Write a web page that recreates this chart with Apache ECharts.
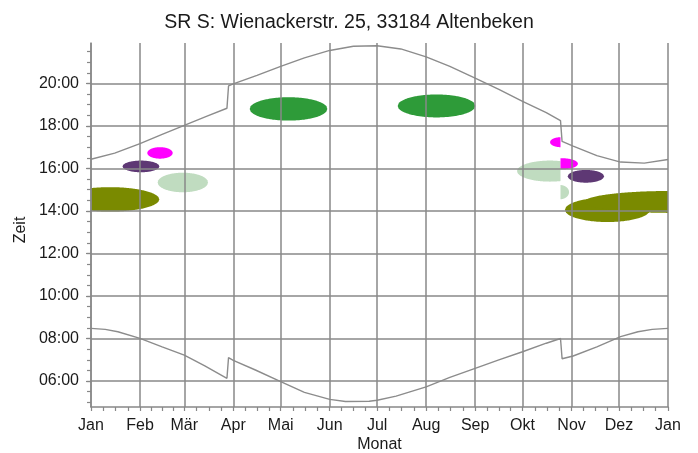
<!DOCTYPE html>
<html><head><meta charset="utf-8">
<script src="https://cdn.jsdelivr.net/npm/echarts@6/dist/echarts.min.js"></script>
<style>html,body{margin:0;padding:0;background:#fff}#c{width:698px;height:453px}</style>
</head><body><div id="c"></div>
<script>
// ---- data ----
const titleText = 'SR S: Wienackerstr. 25, 33184 Altenbeken';
const monthLabels = ['Jan','Feb','Mär','Apr','Mai','Jun','Jul','Aug','Sep','Okt','Nov','Dez','Jan'];
const monthStartDays = [0,31,59,90,120,151,181,212,243,273,304,334,365];
const hourLabels = [6,8,10,12,14,16,18,20];

// sunset (upper curve), day of year -> hour
const sunsetDays  = [0,15,31,45,59,73,86,87,90,105,120,135,151,166,181,196,212,227,243,258,273,288,297,298,305,320,335,350,365];
const sunsetHours = [16.43,16.72,17.17,17.6,18.03,18.45,18.83,19.88,19.98,20.38,20.8,21.2,21.55,21.75,21.77,21.62,21.25,20.8,20.25,19.72,19.15,18.63,18.25,17.27,17.05,16.6,16.3,16.25,16.42];
// sunrise (lower curve)
const sunriseDays  = [0,9,17,31,45,59,72,86,87,90,104,120,135,151,161,176,181,193,212,227,243,258,273,288,297,298,305,320,335,346,355,365];
const sunriseHours = [8.48,8.43,8.32,8.01,7.61,7.22,6.71,6.13,7.1,6.97,6.52,5.97,5.47,5.14,5.04,5.05,5.1,5.29,5.73,6.17,6.6,7.0,7.38,7.78,8.0,7.05,7.18,7.61,8.09,8.32,8.43,8.48];

// shadow periods: [firstDay, lastDay, earliestHour, latestHour, shownFromDay, shownToDay]
const shadowOlive      = [[-19.2,43.2,13.97,15.12,0,365],[299.8,353.6,13.48,14.63,0,365],[312.0,420.0,13.91,14.94,0,365]];
const shadowPurple     = [[20.0,43.2,15.82,16.37,0,365],[301.6,324.5,15.33,15.93,0,365]];
const shadowMagenta    = [[35.6,51.7,16.46,17.0,0,365],[290.4,304.0,17.0,17.47,0,297],[288.0,308.0,15.96,16.48,297,365]];
const shadowLightGreen = [[42.2,74.0,14.88,15.80,0,365],[269.5,311.2,15.38,16.37,0,297],[291.0,302.4,14.55,15.22,297,365]];
const shadowGreen      = [[100.4,149.5,18.25,19.35,0,365],[194.0,243.1,18.4,19.48,0,365]];

// ---- chart ----
const FONT = "'Liberation Sans', Arial, sans-serif";
const GRID = '#888888';
const minorDayTicks = [];
for (let i = 0; i < monthStartDays.length - 1; i++) {
  const a = monthStartDays[i], b = monthStartDays[i+1];
  for (let k = 1; k < 4; k++) minorDayTicks.push(a + (b - a) * k / 4);
}
const halfHourTicks = [];
for (let h = 5; h <= 21.5; h += 0.5) halfHourTicks.push(h);

function renderBlob(params, api) {
  const d0 = api.value(0), d1 = api.value(1), t0 = api.value(2), t1 = api.value(3);
  const from = api.value(4), to = api.value(5);
  const cx = (d0 + d1) / 2, rx = (d1 - d0) / 2, ct = (t0 + t1) / 2, rt = (t1 - t0) / 2;
  const lo = Math.max(d0, from, 0), hi = Math.min(d1, to, 365);
  if (!(hi > lo)) return null;
  const N = 80, up = [], dn = [];
  for (let i = 0; i <= N; i++) {
    const d = lo + (hi - lo) * i / N;
    const u = (d - cx) / rx;
    const h = rt * Math.sqrt(Math.max(0, 1 - u * u));
    up.push(api.coord([d, ct + h]));
    dn.push(api.coord([d, ct - h]));
  }
  return { type: 'polygon', shape: { points: up.concat(dn.reverse()) }, style: { fill: api.visual('color') } };
}
function blobSeries(data, color) {
  return { type: 'custom', renderItem: renderBlob, data: data, color: color, encode: { x: [0, 1], y: [2, 3] },
           silent: true, clip: true, z: 2 };
}
function pairs(xs, ys) { return xs.map((x, i) => [x, ys[i]]); }
function lineSeries(xs, ys) {
  return { type: 'line', data: pairs(xs, ys), showSymbol: false, symbol: 'none', silent: true, z: 4,
           lineStyle: { color: '#8c8c8c', width: 1.4 } };
}
const pad2 = n => (n < 10 ? '0' : '') + n;

const chart = echarts.init(document.getElementById('c'), null, { renderer: 'canvas' });
chart.setOption({
  animation: false,
  backgroundColor: '#ffffff',
  title: { text: titleText, left: 'center', top: 8,
           textStyle: { fontFamily: FONT, fontSize: 19.5, fontWeight: 'normal', color: '#1a1a1a' } },
  grid: { left: 91, right: 30, top: 43, bottom: 46, containLabel: false, outerBoundsMode: 'none' },
  xAxis: [
    { type: 'value', min: 0, max: 365, z: 5,
      name: 'Monat', nameLocation: 'middle', nameGap: 30, nameMoveOverlap: false,
      nameTextStyle: { fontFamily: FONT, fontSize: 16, color: '#1a1a1a' },
      axisLine: { show: true, lineStyle: { color: GRID, width: 1.5 } },
      axisTick: { show: true, length: 4, customValues: monthStartDays, lineStyle: { color: GRID, width: 1.2 } },
      axisLabel: { customValues: monthStartDays, margin: 11, fontFamily: FONT, fontSize: 16, color: '#1a1a1a',
                   formatter: v => monthLabels[monthStartDays.indexOf(Math.round(v))] },
      splitLine: { show: true, lineStyle: { color: GRID, width: 1.5 } } },
    { type: 'value', min: 0, max: 365, position: 'bottom', z: 5,
      axisLine: { show: false },
      axisTick: { show: true, length: 4, customValues: minorDayTicks, lineStyle: { color: GRID, width: 1.2 } },
      axisLabel: { show: false }, splitLine: { show: false } }
  ],
  yAxis: [
    { type: 'value', min: 4.78, max: 21.9, z: 5,
      name: 'Zeit', nameLocation: 'middle', nameGap: 62, nameRotate: 90, nameMoveOverlap: false,
      nameTextStyle: { fontFamily: FONT, fontSize: 16, color: '#1a1a1a', padding: [0, 10, 0, 0] },
      axisLine: { show: true, lineStyle: { color: GRID, width: 1.5 } },
      axisTick: { show: true, length: 5, customValues: hourLabels, lineStyle: { color: GRID, width: 1.2 } },
      axisLabel: { customValues: hourLabels, margin: 12, fontFamily: FONT, fontSize: 16, color: '#1a1a1a',
                   formatter: v => pad2(Math.round(v)) + ':00' },
      splitLine: { show: true, lineStyle: { color: GRID, width: 1.5 } } },
    { type: 'value', min: 4.78, max: 21.9, position: 'left', z: 5,
      axisLine: { show: false },
      axisTick: { show: true, length: 4, customValues: halfHourTicks, lineStyle: { color: GRID, width: 1.2 } },
      axisLabel: { show: false }, splitLine: { show: false } }
  ],
  series: [
    blobSeries(shadowOlive, '#7a8a00'),
    blobSeries(shadowLightGreen, '#c0dcc0'),
    blobSeries(shadowPurple, '#5e3874'),
    blobSeries(shadowMagenta, '#ff00ff'),
    blobSeries(shadowGreen, '#2e9b39'),
    lineSeries(sunsetDays, sunsetHours),
    lineSeries(sunriseDays, sunriseHours)
  ]
});
</script></body></html>
